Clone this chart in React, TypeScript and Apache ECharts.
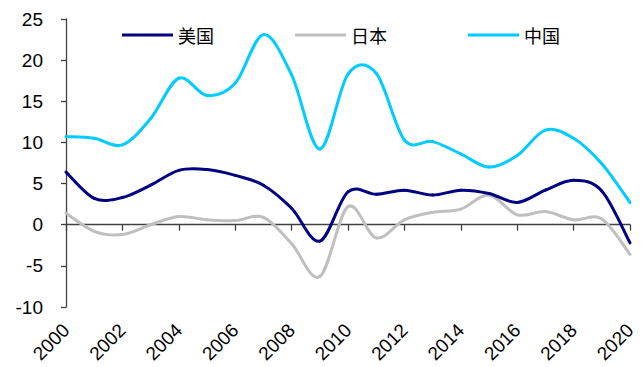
import React, { useEffect, useRef } from "react";
import * as echarts from "echarts";

const years = [2000, 2001, 2002, 2003, 2004, 2005, 2006, 2007, 2008, 2009, 2010, 2011, 2012, 2013, 2014, 2015, 2016, 2017, 2018, 2019, 2020];
const usValues = [6.4, 3.2, 3.3, 4.8, 6.6, 6.7, 6.0, 4.8, 2.0, -2.0, 4.0, 3.7, 4.2, 3.6, 4.2, 3.8, 2.7, 4.2, 5.4, 4.1, -2.2];
const jpValues = [1.4, -0.8, -1.2, 0.0, 1.0, 0.6, 0.5, 0.9, -2.3, -6.3, 2.2, -1.6, 0.6, 1.5, 1.9, 3.6, 1.2, 1.6, 0.6, 0.7, -3.6];
const cnValues = [10.7, 10.5, 9.7, 12.9, 17.8, 15.7, 17.2, 23.1, 18.2, 9.2, 18.3, 18.4, 10.3, 10.1, 8.6, 7.0, 8.4, 11.5, 10.5, 7.4, 2.7];
const seriesNames = ["美国", "日本", "中国"];
const seriesColors = ["#000080", "#BFBFBF", "#00CCFF"];

const pair = (vals: number[]) => years.map((y, i) => [y, vals[i]]);

function makeRenderItem(vals: number[], color: string) {
  return (params: any, api: any) => {
    const i = params.dataIndex;
    const n = years.length;
    if (i >= n - 1) return null;
    const pt = (k: number) => {
      const kk = Math.max(0, Math.min(n - 1, k));
      return api.coord([years[kk], vals[kk]]);
    };
    const p0 = pt(i - 1);
    const p1 = pt(i);
    const p2 = pt(i + 1);
    const p3 = pt(i + 2);
    const t = 1 / 6;
    return {
      type: "bezierCurve",
      shape: {
        x1: p1[0],
        y1: p1[1],
        x2: p2[0],
        y2: p2[1],
        cpx1: p1[0] + (p2[0] - p0[0]) * t,
        cpy1: p1[1] + (p2[1] - p0[1]) * t,
        cpx2: p2[0] - (p3[0] - p1[0]) * t,
        cpy2: p2[1] - (p3[1] - p1[1]) * t,
      },
      style: { stroke: color, lineWidth: 3, fill: null, lineCap: "round" },
    };
  };
}

export default function App() {
  const ref = useRef<HTMLDivElement>(null);
  useEffect(() => {
    if (!ref.current) return;
    const chart = echarts.init(ref.current, null, { renderer: "svg" });
    const axisColor = "#404040";
    const labelFont = { fontFamily: "Liberation Sans, Arial, sans-serif", fontSize: 19, color: "#000" };
    const allVals = [usValues, jpValues, cnValues];
    chart.setOption({
      animation: false,
      backgroundColor: "#fff",
      grid: { left: 66, right: 14, top: 19, bottom: 60, containLabel: false },
      legend: {
        data: seriesNames,
        left: 122,
        top: 26,
        padding: 0,
        icon: "rect",
        itemWidth: 51,
        itemHeight: 3,
        itemGap: 81,
        textStyle: { fontFamily: "Noto Sans CJK SC", fontSize: 18, color: "#000" },
      },
      xAxis: [
        {
          type: "value",
          min: 2000,
          max: 2020,
          interval: 2,
          axisLine: { show: true, onZero: true, lineStyle: { color: axisColor, width: 1.3 } },
          axisTick: { show: true, inside: false, length: 6, lineStyle: { color: axisColor, width: 1.3 } },
          axisLabel: { show: false },
          splitLine: { show: false },
        },
        {
          type: "value",
          position: "bottom",
          min: 2000,
          max: 2020,
          interval: 2,
          axisLine: { show: false, onZero: false },
          axisTick: { show: false },
          axisLabel: { show: true, rotate: 45, margin: 20, ...labelFont, formatter: (v: number) => String(v) },
          splitLine: { show: false },
        },
      ],
      yAxis: {
        type: "value",
        min: -10,
        max: 25,
        interval: 5,
        axisLine: { show: true, lineStyle: { color: axisColor, width: 1.3 } },
        axisTick: { show: true, length: 5, lineStyle: { color: axisColor, width: 1.3 } },
        axisLabel: { margin: 23, ...labelFont },
        splitLine: { show: false },
      },
      series: seriesNames.map((name, i) => ({
        name,
        type: "custom",
        xAxisIndex: 0,
        yAxisIndex: 0,
        data: pair(allVals[i]),
        encode: { x: 0, y: 1 },
        renderItem: makeRenderItem(allVals[i], seriesColors[i]),
        itemStyle: { color: seriesColors[i] },
        clip: false,
        z: i === 0 ? 3 : 2,
      })),
    });
    return () => chart.dispose();
  }, []);
  return <div ref={ref} style={{ position: "fixed", left: 0, top: 0, width: 644, height: 367 }} />;
}
